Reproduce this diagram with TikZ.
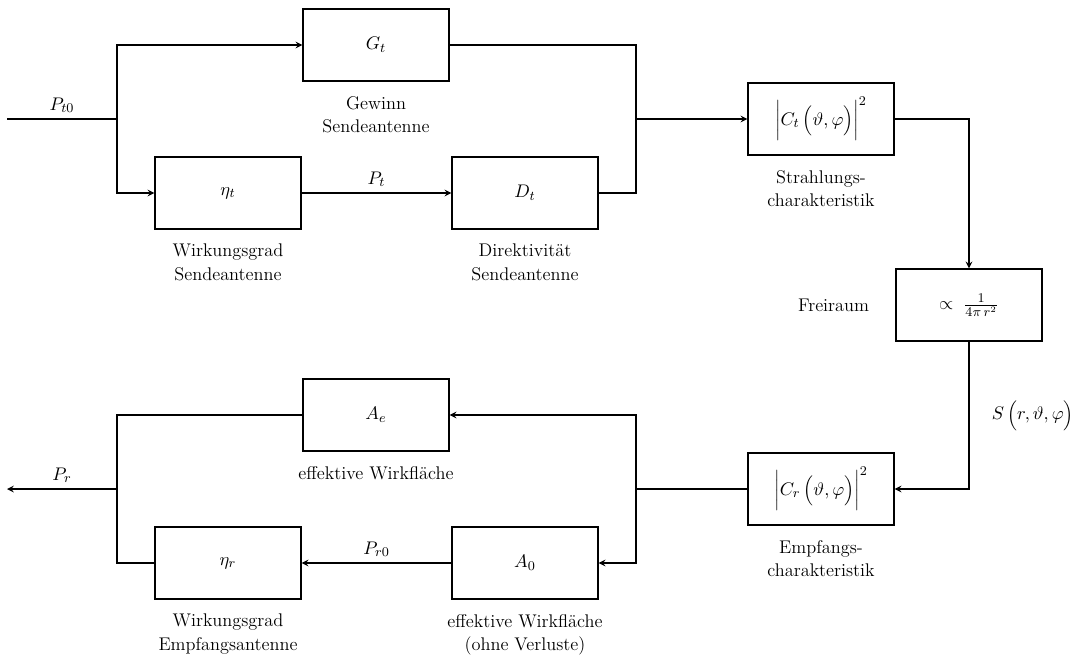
\documentclass[tikz,border=0pt]{standalone}
\usetikzlibrary{arrows.meta, positioning}

\begin{document}
\begin{tikzpicture}[x=0.6pt, y=-0.6pt, >=stealth, node distance=5pt, thick,
    font=\fontsize{11}{14}\selectfont,
    block/.style={draw, minimum width=87.6pt, minimum height=43.2pt, inner sep=0pt},
    caption/.style={align=center}]
    \useasboundingbox (0,0) rectangle (1089,666);

    % Sendeseite
    \node[block] (Gt) at (376,45) {$G_t$};
    \node[block] (etat) at (228,193) {$\eta_t$};
    \node[block] (Dt) at (525,193) {$D_t$};
    \node[block] (Ct) at (821,119) {$\biggl|C_t\,\Bigl(\vartheta,\varphi\Bigr)\biggr|^2$};
    \node[block] (frei) at (969,305) {$\propto\;\frac{1}{4\pi\,r^2}$};

    % Empfangsseite
    \node[block] (Cr) at (821,489) {$\biggl|C_r\,\Bigl(\vartheta,\varphi\Bigr)\biggr|^2$};
    \node[block] (Ae) at (376,415) {$A_e$};
    \node[block] (A0) at (525,563) {$A_0$};
    \node[block] (etar) at (228,563) {$\eta_r$};

    % Beschriftungen
    \node[caption, below=of Gt] {Gewinn\\Sendeantenne};
    \node[caption, below=of etat] {Wirkungsgrad\\Sendeantenne};
    \node[caption, below=of Dt] {Direktivität\\Sendeantenne};
    \node[caption, below=of Ct] {Strahlungs-\\charakteristik};
    \node[caption, left=12pt of frei] {Freiraum};
    \node[caption, below=of Cr] {Empfangs-\\charakteristik};
    \node[caption, below=of Ae] {effektive Wirkfläche};
    \node[caption, below=of etar] {Wirkungsgrad\\Empfangsantenne};
    \node[caption, below=of A0] {effektive Wirkfläche\\(ohne Verluste)};

    % Verzweigungen
    \coordinate (in) at (7,119);
    \coordinate (split) at (117,119);
    \coordinate (merge) at (636,119);
    \coordinate (rsplit) at (636,489);
    \coordinate (rmerge) at (117,489);
    \coordinate (out) at (7,489);

    % Sender
    \draw (in) -- node[above] {$P_{t0}$} (split);
    \draw[->] (split) |- (Gt);
    \draw[->] (split) |- (etat);
    \draw[->] (etat) -- node[above] {$P_t$} (Dt);
    \draw (Gt) -| (merge);
    \draw (Dt) -| (merge);
    \draw[->] (merge) -- (Ct);
    \draw[->] (Ct) -| (frei);
    \draw[->] (frei) |- node[pos=0.25, right=10pt] {$S\,\Bigl(r,\vartheta,\varphi\Bigr)$} (Cr);

    % Empfaenger
    \draw (Cr) -- (rsplit);
    \draw[->] (rsplit) |- (Ae);
    \draw[->] (rsplit) |- (A0);
    \draw[->] (A0) -- node[above] {$P_{r0}$} (etar);
    \draw (Ae) -| (rmerge);
    \draw (etar) -| (rmerge);
    \draw[->] (rmerge) -- node[above] {$P_r$} (out);
\end{tikzpicture}
\end{document}
